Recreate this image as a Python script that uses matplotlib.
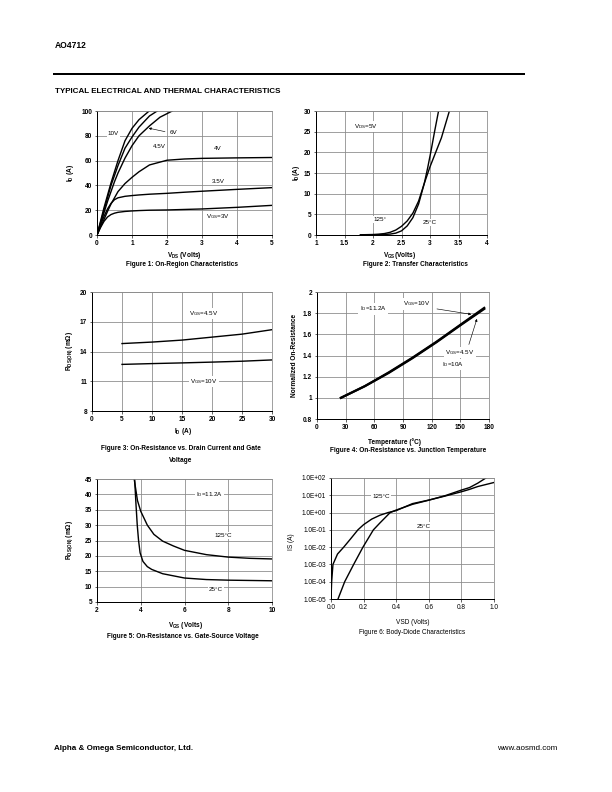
import matplotlib
matplotlib.use('Agg')
import matplotlib.pyplot as plt
from matplotlib.lines import Line2D

plt.rcParams['font.family'] = ['Liberation Sans', 'DejaVu Sans']
plt.rcParams['mathtext.fontset'] = 'custom'
plt.rcParams['mathtext.rm'] = 'Liberation Sans'
plt.rcParams['mathtext.it'] = 'Liberation Sans'
plt.rcParams['mathtext.bf'] = 'Liberation Sans:bold'

# ---------------- data ----------------
# Figure 1: On-region characteristics
f1_vds = [0, 0.1, 0.2, 0.3, 0.4, 0.5, 0.6, 0.8, 1.0, 1.2, 1.5, 2.0, 2.5, 3.0, 4.0, 5.0]
f1_id_3v = [0, 6, 11, 14.5, 16.5, 17.6, 18.3, 19.0, 19.4, 19.7, 20.0, 20.2, 20.6, 21.0, 22.3, 23.9]
f1_id_35v = [0, 8, 15, 21, 25.5, 28.5, 30, 31.2, 31.8, 32.3, 32.9, 33.6, 34.5, 35.3, 36.8, 38.2]
f1_id_4v = [0, 6.5, 12.5, 19, 25, 30, 35, 41.5, 46.5, 51, 56.5, 60.3, 61.3, 61.8, 62.2, 62.5]
f1_vds_45 = [0, 0.1, 0.2, 0.3, 0.4, 0.5, 0.6, 0.8, 1.0, 1.2, 1.5, 1.8, 2.15]
f1_id_45v = [0, 9, 18, 27, 35, 43, 50, 62, 72, 80, 88, 95, 100]
f1_vds_6 = [0, 0.1, 0.2, 0.3, 0.4, 0.5, 0.6, 0.8, 1.0, 1.2, 1.5, 1.72]
f1_id_6v = [0, 10, 20, 30, 40, 48, 56, 70, 79, 87, 96, 100]
f1_vds_10 = [0, 0.1, 0.2, 0.3, 0.4, 0.5, 0.6, 0.8, 1.0, 1.2, 1.49]
f1_id_10v = [0, 11, 22, 32, 42, 51, 60, 76, 86, 93, 100]

# Figure 2: Transfer characteristics
f2_vgs_125 = [1.78, 2.0, 2.1, 2.2, 2.3, 2.4, 2.5, 2.6, 2.7, 2.8, 2.9, 2.96, 3.02, 3.08, 3.15]
f2_id_125 = [0.05, 0.12, 0.2, 0.35, 0.65, 1.2, 2.1, 3.4, 5.3, 8.2, 12.5, 16.3, 20.5, 25, 30]
f2_vgs_25 = [1.78, 2.0, 2.2, 2.3, 2.4, 2.5, 2.6, 2.7, 2.8, 2.9, 3.0, 3.1, 3.2, 3.34]
f2_id_25 = [0.02, 0.05, 0.12, 0.22, 0.45, 1.0, 2.2, 4.2, 7.5, 12.5, 16.5, 20, 23.5, 30]

# Figure 3: On-resistance vs drain current
f3_id = [5, 10, 15, 20, 25, 30]
f3_r_45v = [14.8, 14.95, 15.15, 15.45, 15.75, 16.2]
f3_r_10v = [12.7, 12.78, 12.85, 12.93, 13.02, 13.15]

# Figure 4: Normalized on-resistance vs temperature
f4_temp = [25, 50, 75, 100, 125, 150, 175]
f4_r_10v = [1.0, 1.11, 1.24, 1.38, 1.53, 1.69, 1.85]
f4_r_45v = [1.0, 1.11, 1.235, 1.375, 1.525, 1.685, 1.84]

# Figure 5: On-resistance vs gate-source voltage
f5_vgs_125 = [3.7, 3.85, 4.0, 4.3, 4.6, 5.0, 5.5, 6.0, 7.0, 8.0, 9.0, 10.0]
f5_r_125 = [45, 38, 34.5, 30, 27, 24.8, 23.2, 21.8, 20.4, 19.6, 19.2, 19.0]
f5_vgs_25 = [3.72, 3.78, 3.84, 3.9, 3.97, 4.1, 4.3, 4.5, 5.0, 6.0, 7.0, 8.0, 9.0, 10.0]
f5_r_25 = [45, 37, 30, 25, 21, 18.2, 16.5, 15.6, 14.2, 12.8, 12.3, 12.1, 12.0, 11.9]

# Figure 6: Body-diode characteristics
f6_vsd_125 = [0.0, 0.004, 0.012, 0.04, 0.078, 0.12, 0.165, 0.2, 0.25, 0.3, 0.35, 0.4, 0.5, 0.6, 0.7, 0.8, 0.85, 0.9, 1.0]
f6_is_125 = [1e-5, 1e-4, 1e-3, 4e-3, 1e-2, 3e-2, 1e-1, 0.2, 0.42, 0.7, 1.0, 1.3, 3.3, 5.3, 9.0, 16, 22, 32, 55]
f6_vsd_25 = [0.043, 0.084, 0.139, 0.196, 0.26, 0.3, 0.363, 0.4, 0.5, 0.6, 0.7, 0.8, 0.85, 0.9, 0.95]
f6_is_25 = [1e-5, 1e-4, 1e-3, 1e-2, 1e-1, 0.25, 1.0, 1.4, 3.0, 5.2, 9.5, 20, 28, 50, 100]

# tick labels
f1_xticks = [0, 1, 2, 3, 4, 5]
f1_yticks = [0, 20, 40, 60, 80, 100]
f2_xticks = [1, 1.5, 2, 2.5, 3, 3.5, 4]
f2_xticklabels = ['1', '1.5', '2', '2.5', '3', '3.5', '4']
f2_yticks = [0, 5, 10, 15, 20, 25, 30]
f3_xticks = [0, 5, 10, 15, 20, 25, 30]
f3_yticks = [8, 11, 14, 17, 20]
f4_xticks = [0, 30, 60, 90, 120, 150, 180]
f4_yticks = [0.8, 1.0, 1.2, 1.4, 1.6, 1.8, 2.0]
f4_yticklabels = ['0.8', '1', '1.2', '1.4', '1.6', '1.8', '2']
f5_xticks = [2, 4, 6, 8, 10]
f5_yticks = [5, 10, 15, 20, 25, 30, 35, 40, 45]
f6_xticks = [0.0, 0.2, 0.4, 0.6, 0.8, 1.0]
f6_xticklabels = ['0.0', '0.2', '0.4', '0.6', '0.8', '1.0']
f6_yticks = [1e-5, 1e-4, 1e-3, 1e-2, 1e-1, 1e0, 1e1, 1e2]
f6_yticklabels = ['1.0E-05', '1.0E-04', '1.0E-03', '1.0E-02', '1.0E-01', '1.0E+00', '1.0E+01', '1.0E+02']

# ---------------- layout ----------------
W, H = 612, 792
fig = plt.figure(figsize=(W / 72, H / 72), dpi=72)

GRID = '#8a8a8a'
TICK_FS = 6.5
LAB_FS = 6.5
CAP_FS = 6.5
ANN_FS = 6.3
BOX = dict(facecolor='white', edgecolor='none', pad=1.2)


def add_ax(x0, y0, x1, y1):
    return fig.add_axes([x0 / W, 1 - y1 / H, (x1 - x0) / W, (y1 - y0) / H])


def ftext(x, y, s, **kw):
    fig.text(x / W, 1 - y / H, s, **kw)


def style(ax, bold=True):
    ax.grid(True, color=GRID, lw=0.8)
    ax.set_axisbelow(True)
    for side in ('top', 'right'):
        ax.spines[side].set_color(GRID)
        ax.spines[side].set_linewidth(0.8)
    for side in ('left', 'bottom'):
        ax.spines[side].set_color('black')
        ax.spines[side].set_linewidth(1.0)
    ax.tick_params(direction='out', length=2.5, width=0.6, labelsize=TICK_FS, pad=2.5)
    for lab in ax.get_xticklabels() + ax.get_yticklabels():
        lab.set_fontweight('bold' if bold else 'normal')


LW = 1.4

# ---- Figure 1 ----
ax1 = add_ax(97, 111, 272, 235)
for x, y in [(f1_vds, f1_id_3v), (f1_vds, f1_id_35v), (f1_vds, f1_id_4v),
             (f1_vds_45, f1_id_45v), (f1_vds_6, f1_id_6v), (f1_vds_10, f1_id_10v)]:
    ax1.plot(x, y, color='black', lw=LW, clip_on=True)
ax1.set_xlim(0, 5)
ax1.set_ylim(0, 100)
ax1.set_xticks(f1_xticks)
ax1.set_yticks(f1_yticks)
style(ax1)
ax1.text(0.47, 82, '10V', fontsize=ANN_FS, ha='center', va='center', bbox=BOX)
ax1.text(2.17, 83, '6V', fontsize=ANN_FS, ha='center', va='center', bbox=BOX)
ax1.annotate('', xy=(1.42, 86.5), xytext=(2.0, 83),
             arrowprops=dict(arrowstyle='-|>', color='black', lw=0.6, mutation_scale=5))
ax1.text(1.78, 71.5, '4.5V', fontsize=ANN_FS, ha='center', va='center', bbox=BOX)
ax1.text(3.45, 70, '4V', fontsize=ANN_FS, ha='center', va='center', bbox=BOX)
ax1.text(3.45, 43.5, '3.5V', fontsize=ANN_FS, ha='center', va='center', bbox=BOX)
ax1.text(3.47, 14.5, r'V$_{\mathrm{GS}}$=3V', fontsize=ANN_FS, ha='center', va='center', bbox=BOX)
ftext(71, 173, r'$\mathbf{I_D}$ (A)', fontsize=LAB_FS, fontweight='bold', rotation=90, ha='center', va='center')
ftext(184, 255.3, r'$\mathbf{V_{DS}}$ (Volts)', fontsize=LAB_FS, fontweight='bold', ha='center', va='center')
ftext(182, 265, 'Figure 1: On-Region Characteristics', fontsize=CAP_FS, fontweight='bold', ha='center', va='center')

# ---- Figure 2 ----
ax2 = add_ax(316, 111, 487, 235)
ax2.plot(f2_vgs_125, f2_id_125, color='black', lw=LW)
ax2.plot(f2_vgs_25, f2_id_25, color='black', lw=LW)
ax2.set_xlim(1, 4)
ax2.set_ylim(0, 30)
ax2.set_xticks(f2_xticks)
ax2.set_xticklabels(f2_xticklabels)
ax2.set_yticks(f2_yticks)
style(ax2)
ax2.text(1.88, 26.2, r'V$_{\mathrm{DS}}$=5V', fontsize=ANN_FS, ha='center', va='center', bbox=BOX)
ax2.text(2.13, 3.8, '125°', fontsize=ANN_FS, ha='center', va='center', bbox=BOX)
ax2.text(3.0, 3.0, '25°C', fontsize=ANN_FS, ha='center', va='center', bbox=BOX)
ftext(297, 173, r'$\mathbf{I_D}$(A)', fontsize=LAB_FS, fontweight='bold', rotation=90, ha='center', va='center')
ftext(400, 255.5, r'$\mathbf{V_{GS}}$(Volts)', fontsize=LAB_FS, fontweight='bold', ha='center', va='center')
ftext(415, 265, 'Figure 2: Transfer Characteristics', fontsize=CAP_FS, fontweight='bold', ha='center', va='center')

# ---- Figure 3 ----
ax3 = add_ax(92, 292, 272, 411)
ax3.plot(f3_id, f3_r_45v, color='black', lw=LW)
ax3.plot(f3_id, f3_r_10v, color='black', lw=LW)
ax3.set_xlim(0, 30)
ax3.set_ylim(8, 20)
ax3.set_xticks(f3_xticks)
ax3.set_yticks(f3_yticks)
style(ax3)
ax3.text(18.6, 17.85, r'V$_{\mathrm{GS}}$=4.5V', fontsize=ANN_FS, ha='center', va='center', bbox=BOX)
ax3.text(18.6, 11.0, r'V$_{\mathrm{GS}}$=10V', fontsize=ANN_FS, ha='center', va='center', bbox=BOX)
ftext(70, 351, r'$\mathbf{R_{DS(ON)}}$ (m$\mathbf{\Omega}$)', fontsize=LAB_FS, fontweight='bold', rotation=90, ha='center', va='center')
ftext(182.7, 431.7, r'$\mathbf{I_D}$ (A)', fontsize=LAB_FS, fontweight='bold', ha='center', va='center')
ftext(181, 449, 'Figure 3: On-Resistance vs. Drain Current and Gate', fontsize=CAP_FS, fontweight='bold', ha='center', va='center')
ftext(181, 460.7, 'Voltage', fontsize=CAP_FS, fontweight='bold', ha='center', va='center')

# ---- Figure 4 ----
ax4 = add_ax(317, 292, 489, 419)
ax4.plot(f4_temp, f4_r_10v, color='black', lw=2.2)
ax4.plot(f4_temp, f4_r_45v, color='black', lw=2.2)
ax4.set_xlim(0, 180)
ax4.set_ylim(0.8, 2.0)
ax4.set_xticks(f4_xticks)
ax4.set_yticks(f4_yticks)
ax4.set_yticklabels(f4_yticklabels)
style(ax4)
ax4.text(58.7, 1.84, r'I$_{\mathrm{D}}$=11.2A', fontsize=ANN_FS, ha='center', va='center', bbox=BOX)
ax4.text(104, 1.887, r'V$_{\mathrm{GS}}$=10V', fontsize=ANN_FS, ha='center', va='center', bbox=BOX)
ax4.annotate('', xy=(163.5, 1.786), xytext=(123.4, 1.843),
             arrowprops=dict(arrowstyle='-|>', color='black', lw=0.6, mutation_scale=5))
ax4.text(149.6, 1.43, r'V$_{\mathrm{GS}}$=4.5V', fontsize=ANN_FS, ha='center', va='center', bbox=BOX)
ax4.text(142.6, 1.313, r'I$_{\mathrm{D}}$=10A', fontsize=ANN_FS, ha='center', va='center', bbox=BOX)
ax4.annotate('', xy=(168, 1.764), xytext=(158.3, 1.486),
             arrowprops=dict(arrowstyle='-|>', color='black', lw=0.6, mutation_scale=5))
ftext(295, 355, 'Normalized On-Resistance', fontsize=LAB_FS, fontweight='bold', rotation=90, ha='center', va='center')
ftext(394, 441.7, 'Temperature (°C)', fontsize=LAB_FS, fontweight='bold', ha='center', va='center')
ftext(408, 451, 'Figure 4: On-Resistance vs. Junction Temperature', fontsize=CAP_FS, fontweight='bold', ha='center', va='center')

# ---- Figure 5 ----
ax5 = add_ax(97, 479, 272, 602)
ax5.plot(f5_vgs_125, f5_r_125, color='black', lw=LW)
ax5.plot(f5_vgs_25, f5_r_25, color='black', lw=LW)
ax5.set_xlim(2, 10)
ax5.set_ylim(5, 45)
ax5.set_xticks(f5_xticks)
ax5.set_yticks(f5_yticks)
style(ax5)
ax5.text(7.15, 40, r'I$_{\mathrm{D}}$=11.2A', fontsize=ANN_FS, ha='center', va='center', bbox=BOX)
ax5.text(7.76, 26.6, '125°C', fontsize=ANN_FS, ha='center', va='center', bbox=BOX)
ax5.text(7.44, 9.2, '25°C', fontsize=ANN_FS, ha='center', va='center', bbox=BOX)
ftext(70, 540, r'$\mathbf{R_{DS(ON)}}$ (m$\mathbf{\Omega}$)', fontsize=LAB_FS, fontweight='bold', rotation=90, ha='center', va='center')
ftext(185, 625.7, r'$\mathbf{V_{GS}}$ (Volts)', fontsize=LAB_FS, fontweight='bold', ha='center', va='center')
ftext(183, 637, 'Figure 5: On-Resistance vs. Gate-Source Voltage', fontsize=CAP_FS, fontweight='bold', ha='center', va='center')

# ---- Figure 6 ----
ax6 = add_ax(331, 478, 494, 599)
ax6.plot(f6_vsd_125, f6_is_125, color='black', lw=LW)
ax6.plot(f6_vsd_25, f6_is_25, color='black', lw=LW)
ax6.set_yscale('log')
ax6.set_xlim(0, 1.0)
ax6.set_ylim(1e-5, 1e2)
ax6.set_xticks(f6_xticks)
ax6.set_xticklabels(f6_xticklabels)
ax6.set_yticks(f6_yticks)
ax6.set_yticklabels(f6_yticklabels)
ax6.minorticks_off()
style(ax6, bold=False)
ax6.text(0.306, 8.9, '125°C', fontsize=ANN_FS, ha='center', va='center', bbox=BOX)
ax6.text(0.571, 0.166, '25°C', fontsize=ANN_FS, ha='center', va='center', bbox=BOX)
ftext(291.7, 541.7, 'IS (A)', fontsize=LAB_FS, rotation=90, ha='center', va='center')
ftext(412.7, 622.3, 'VSD (Volts)', fontsize=LAB_FS, ha='center', va='center')
ftext(411.7, 633, 'Figure 6: Body-Diode Characteristics', fontsize=CAP_FS, ha='center', va='center')

# ---- header / footer ----
ftext(55, 45, 'AO4712', fontsize=8.5, fontweight='bold', ha='left', va='center')
fig.add_artist(Line2D([54 / W, 524 / W], [1 - 74 / H, 1 - 74 / H], color='black', lw=2))
ftext(55, 91.7, 'TYPICAL ELECTRICAL AND THERMAL CHARACTERISTICS', fontsize=8, fontweight='bold', ha='left', va='center')
ftext(54, 749, 'Alpha & Omega Semiconductor, Ltd.', fontsize=8, fontweight='bold', ha='left', va='center')
ftext(557, 749, 'www.aosmd.com', fontsize=8, ha='right', va='center')

fig.savefig('out.png', dpi=72)
